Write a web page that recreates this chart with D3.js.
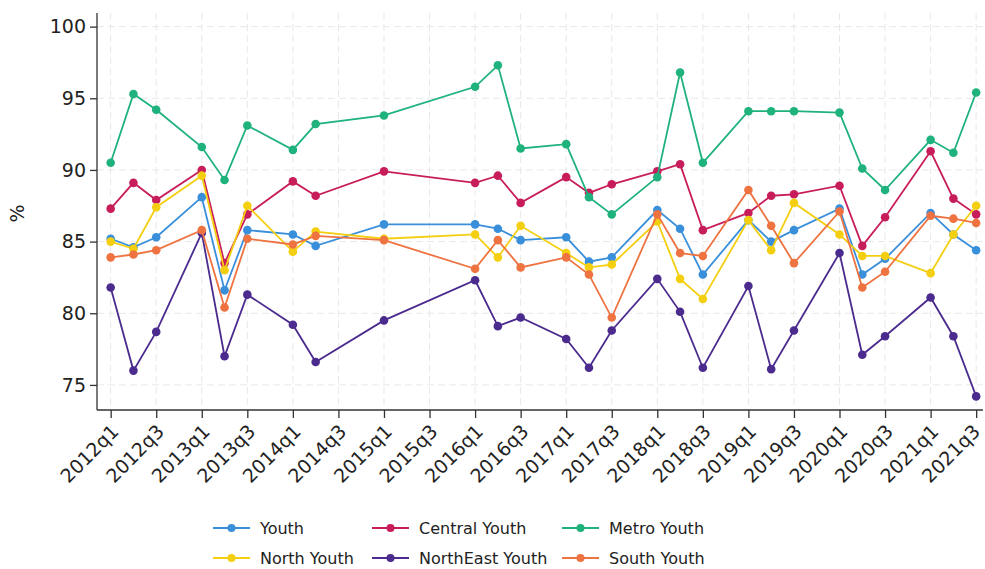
<!DOCTYPE html>
<html>
<head>
<meta charset="utf-8">
<script src="https://cdn.jsdelivr.net/npm/d3@7"></script>
<style>
  html, body { margin: 0; padding: 0; background: #fff; }
  svg { display: block; }
  text { font-family: "DejaVu Sans", sans-serif; fill: #222; }
</style>
</head>
<body>
<svg id="chart" width="985" height="569"></svg>
<script>
// ---- Data ----
const quarters = ["2012q1","2012q2","2012q3","2013q1","2013q2","2013q3","2014q1","2014q2","2015q1",
  "2016q1","2016q2","2016q3","2017q1","2017q2","2017q3","2018q1","2018q2","2018q3",
  "2019q1","2019q2","2019q3","2020q1","2020q2","2020q3","2021q1","2021q2","2021q3"];

const youth     = [85.2, 84.6, 85.3, 88.1, 81.6, 85.8, 85.5, 84.7, 86.2, 86.2, 85.9, 85.1, 85.3, 83.6, 83.9, 87.2, 85.9, 82.7, 86.5, 85.0, 85.8, 87.3, 82.7, 83.8, 87.0, 85.5, 84.4];
const central   = [87.3, 89.1, 87.9, 90.0, 83.5, 86.9, 89.2, 88.2, 89.9, 89.1, 89.6, 87.7, 89.5, 88.4, 89.0, 89.9, 90.4, 85.8, 87.0, 88.2, 88.3, 88.9, 84.7, 86.7, 91.3, 88.0, 86.9];
const metro     = [90.5, 95.3, 94.2, 91.6, 89.3, 93.1, 91.4, 93.2, 93.8, 95.8, 97.3, 91.5, 91.8, 88.1, 86.9, 89.5, 96.8, 90.5, 94.1, 94.1, 94.1, 94.0, 90.1, 88.6, 92.1, 91.2, 95.4];
const north     = [85.0, 84.5, 87.4, 89.6, 83.0, 87.5, 84.3, 85.7, 85.2, 85.5, 83.9, 86.1, 84.2, 83.2, 83.4, 86.4, 82.4, 81.0, 86.5, 84.4, 87.7, 85.5, 84.0, 84.0, 82.8, 85.5, 87.5];
const northeast = [81.8, 76.0, 78.7, 85.6, 77.0, 81.3, 79.2, 76.6, 79.5, 82.3, 79.1, 79.7, 78.2, 76.2, 78.8, 82.4, 80.1, 76.2, 81.9, 76.1, 78.8, 84.2, 77.1, 78.4, 81.1, 78.4, 74.2];
const south     = [83.9, 84.1, 84.4, 85.8, 80.4, 85.2, 84.8, 85.4, 85.1, 83.1, 85.1, 83.2, 83.9, 82.7, 79.7, 86.9, 84.2, 84.0, 88.6, 86.1, 83.5, 87.1, 81.8, 82.9, 86.8, 86.6, 86.3];

const seriesNames = ["Youth", "Central Youth", "Metro Youth", "North Youth", "NorthEast Youth", "South Youth"];
const seriesValues = [youth, central, metro, north, northeast, south];
const seriesColors = ["#3a8fdb", "#c81d5b", "#1fb27c", "#f4cf10", "#4b2b8e", "#ee7340"];

const xTickLabels = ["2012q1","2012q3","2013q1","2013q3","2014q1","2014q3","2015q1","2015q3","2016q1","2016q3",
  "2017q1","2017q3","2018q1","2018q3","2019q1","2019q3","2020q1","2020q3","2021q1","2021q3"];
const yTicks = [75, 80, 85, 90, 95, 100];
const yLabel = "%";

// ---- Helpers ----
const qIndex = s => (+s.slice(0, 4) - 2012) * 4 + (+s.slice(5) - 1);

// ---- Layout ----
const svg = d3.select("#chart");
const pLeft = 97, pRight = 983, pTop = 13, pBottom = 410;

const x = d3.scaleLinear().domain([-0.6, 38.3]).range([pLeft, pRight]);
const y = d3.scaleLinear().domain([73.25, 100.95]).range([pBottom, pTop]);

// gridlines
const grid = svg.append("g");
grid.selectAll("line.h").data(yTicks).join("line")
  .attr("x1", pLeft).attr("x2", pRight)
  .attr("y1", d => y(d)).attr("y2", d => y(d))
  .attr("stroke", "#e8e8e8").attr("stroke-width", 1).attr("stroke-dasharray", "7,4");
grid.selectAll("line.v").data(xTickLabels).join("line")
  .attr("x1", d => x(qIndex(d))).attr("x2", d => x(qIndex(d)))
  .attr("y1", pTop).attr("y2", pBottom)
  .attr("stroke", "#e8e8e8").attr("stroke-width", 1).attr("stroke-dasharray", "7,4");

// axes
const yAxis = d3.axisLeft(y).tickValues(yTicks).tickSize(7).tickPadding(4).tickFormat(d3.format("d"));
const gy = svg.append("g").attr("transform", `translate(${pLeft},0)`).call(yAxis);
gy.select(".domain").attr("d", `M0,${pTop}V${pBottom}`);
gy.selectAll("text").style("font-size", "19px").attr("font-family", "DejaVu Sans").attr("fill", "#222");

const xAxis = d3.axisBottom(x).tickValues(xTickLabels.map(qIndex)).tickSize(8)
  .tickFormat((d, i) => xTickLabels[i]);
const gx = svg.append("g").attr("transform", `translate(0,${pBottom})`).call(xAxis);
gx.select(".domain").attr("d", `M${pLeft},0H${pRight}`);
const nX = xTickLabels.length;
gx.selectAll("text")
  .style("font-size", "19px").attr("font-family", "DejaVu Sans").attr("fill", "#222")
  .attr("text-anchor", "end")
  .attr("x", 0).attr("y", 0)
  .attr("dy", "0.35em")
  .attr("transform", (d, i) => i === nX - 1 ? "translate(0,18) rotate(-45)" : "translate(4,18) rotate(-45)");
svg.selectAll(".domain, .tick line").attr("stroke", "#333").attr("stroke-width", 1.3);

// y label
svg.append("text")
  .attr("transform", `translate(24,${(pTop + pBottom) / 2 + 2}) rotate(-90)`)
  .attr("text-anchor", "middle")
  .style("font-size", "19px")
  .text(yLabel);

// series
const line = d3.line().x(d => x(d.q)).y(d => y(d.v));
seriesValues.forEach((vals, si) => {
  const pts = vals.map((v, i) => ({ q: qIndex(quarters[i]), v }));
  const g = svg.append("g");
  g.append("path").datum(pts).attr("d", line)
    .attr("fill", "none").attr("stroke", seriesColors[si]).attr("stroke-width", 1.8);
  g.selectAll("circle").data(pts).join("circle")
    .attr("cx", d => x(d.q)).attr("cy", d => y(d.v)).attr("r", 4.3)
    .attr("fill", seriesColors[si]);
});

// legend
const legCols = [213, 372, 562];
const legRows = [528, 558];
const legend = svg.append("g");
seriesNames.forEach((name, i) => {
  const cx = legCols[i % 3], cy = legRows[Math.floor(i / 3)];
  const g = legend.append("g").attr("transform", `translate(${cx},${cy})`);
  g.append("line").attr("x1", 0).attr("x2", 37).attr("y1", 0).attr("y2", 0)
    .attr("stroke", seriesColors[i]).attr("stroke-width", 1.8);
  g.append("circle").attr("cx", 18.5).attr("cy", 0).attr("r", 4).attr("fill", seriesColors[i]);
  g.append("text").attr("x", 47).attr("y", 0).attr("dy", "0.36em")
    .style("font-size", "16px").text(name);
});
</script>
</body>
</html>
